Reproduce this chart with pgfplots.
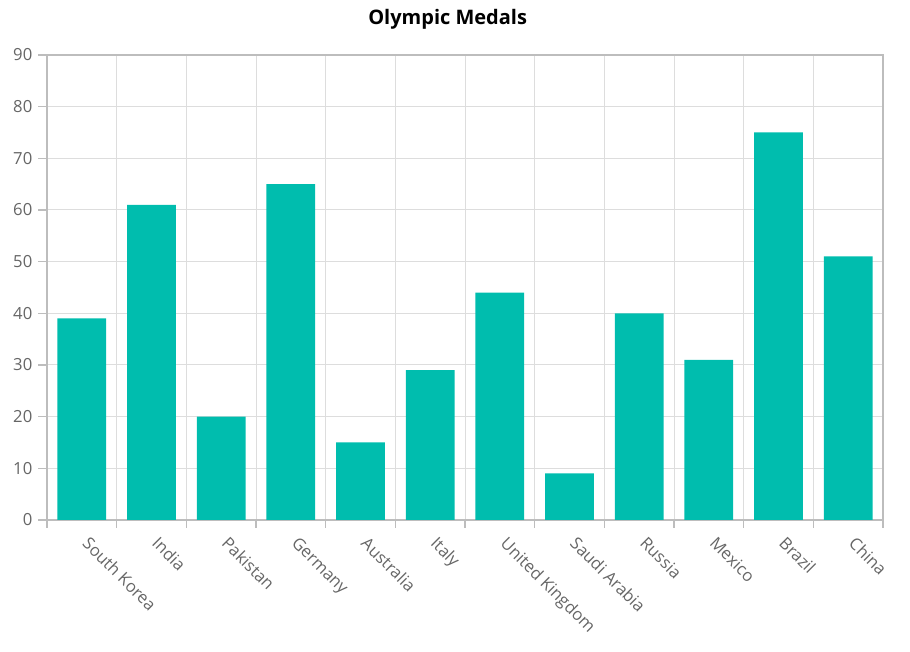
\documentclass[border=0pt]{standalone}
\usepackage{fontspec}
\setmainfont{Open Sans}
\usepackage{pgfplots}
\pgfplotsset{compat=1.18}
\definecolor{barc}{HTML}{00BDAE}
\definecolor{axc}{HTML}{BDBDBD}
\definecolor{gridc}{HTML}{DDDDDD}
\definecolor{txtc}{HTML}{666666}
\begin{document}
\begin{tikzpicture}[x=1pt,y=1pt]
\useasboundingbox (-35.25pt,-99pt) rectangle (647.25pt,390pt);
\begin{axis}[
  at={(0,0)}, anchor=south west,
  scale only axis,
  width=627pt, height=348.75pt,
  xmin=-0.5, xmax=11.5, ymin=0, ymax=90,
  ytick={0,10,...,90},
  xtick={0,...,11},
  xticklabels={South Korea,India,Pakistan,Germany,Australia,Italy,United Kingdom,Saudi Arabia,Russia,Mexico,Brazil,China},
  minor xtick={-0.5,0.5,...,11.5},
  xtick pos=bottom, ytick pos=left,
  xminorgrids, ymajorgrids,
  major x tick style={draw=none},
  tick align=outside,
  major tick length=6.5pt, minor tick length=6pt,
  tick style={axc, line width=0.8pt},
  minor tick style={axc, line width=0.8pt},
  grid style={gridc, line width=0.75pt},
  minor grid style={gridc, line width=0.75pt},
  axis line style={axc, line width=1pt},
  x tick label style={yshift=-5pt, xshift=6.5pt, rotate=-45, anchor=north west, font=\fontsize{12.5}{14}\selectfont, text=txtc, inner sep=0pt},
  y tick label style={font=\fontsize{12.5}{14}\selectfont, text=txtc, xshift=-1pt},
  /pgf/number format/assume math mode=true,
  title={\fontsize{15}{17}\selectfont\bfseries Olympic Medals},
  title style={yshift=10pt, xshift=-13pt},
]
\addplot[ybar, bar width=0.7, fill=barc, draw=none] coordinates {
(0,39) (1,61) (2,20) (3,65) (4,15) (5,29) (6,44) (7,9) (8,40) (9,31) (10,75) (11,51)
};
\end{axis}
\end{tikzpicture}
\end{document}
